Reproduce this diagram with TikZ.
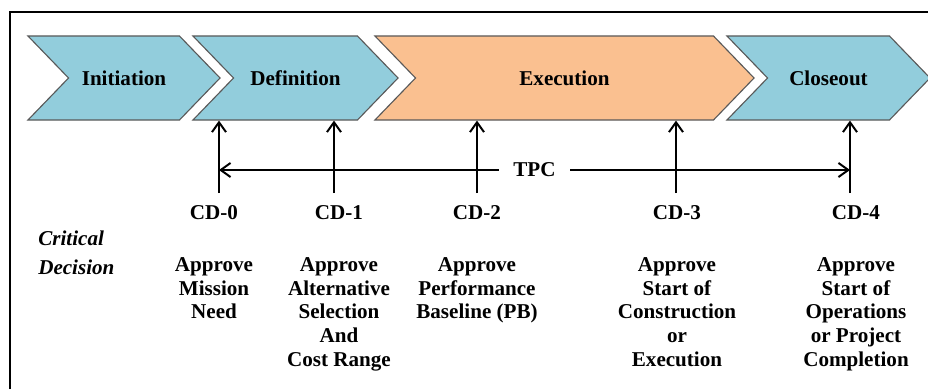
\documentclass[tikz,border=0pt]{standalone}
\usepackage{fontspec}
\setmainfont{Liberation Serif}
\usetikzlibrary{shapes.symbols, arrows.meta, positioning}
\definecolor{phaseblue}{RGB}{146,205,220}
\definecolor{phaseorange}{RGB}{250,192,144}

\begin{document}
\begin{tikzpicture}[x=0.025cm, y=-0.025cm,
    phase/.style={signal, signal from=west, signal to=east, signal pointer angle=92,
      draw=black!65, line width=0.8pt, minimum height=2.1cm, inner sep=0pt,
      font=\fontsize{15}{17}\selectfont\bfseries},
    cdlabel/.style={font=\fontsize{15}{17}\selectfont\bfseries, inner sep=0pt},
    desc/.style={align=center, font=\fontsize{15}{17}\selectfont\bfseries, inner sep=0pt},
    cdarrow/.style={-{Straight Barb[length=7pt,width=10pt]}, line width=1.4pt}]
  \useasboundingbox (0,0) rectangle (928,389);
  \draw [line width=1.4pt] (10,389) -- (10,12) -- (928,12);

  % phases
  \node (init) [phase, fill=phaseblue, minimum width=4.8cm] at (124,78) {Initiation};
  \node (def) [phase, fill=phaseblue, minimum width=5.125cm] at (295.5,78) {Definition};
  \node (exe) [phase, fill=phaseorange, minimum width=9.475cm] at (564.5,78) {Execution};
  \node (close) [phase, fill=phaseblue, minimum width=5.075cm] at (828.5,78) {Closeout};

  % critical decisions
  \node (crit) [cdlabel, font=\fontsize{15}{21}\selectfont\bfseries\itshape, align=left, anchor=west] at (38,253) {Critical\\Decision};

  \node (cd0) [cdlabel] at (214,213) {CD-0};
  \node (cd1) [cdlabel] at (339,213) {CD-1};
  \node (cd2) [cdlabel] at (477,213) {CD-2};
  \node (cd3) [cdlabel] at (677,213) {CD-3};
  \node (cd4) [cdlabel] at (856,213) {CD-4};

  \node (txt0) [desc, below=26pt of cd0] {Approve\\Mission\\Need};
  \node (txt1) [desc, below=26pt of cd1] {Approve\\Alternative\\Selection\\And\\Cost Range};
  \node (txt2) [desc, below=26pt of cd2] {Approve\\Performance\\Baseline (PB)};
  \node (txt3) [desc, below=26pt of cd3] {Approve\\Start of\\Construction\\or\\Execution};
  \node (txt4) [desc, below=26pt of cd4] {Approve\\Start of\\Operations\\or Project\\Completion};

  \coordinate (c0) at (219,193);
  \coordinate (c1) at (334,193);
  \coordinate (c2) at (477,193);
  \coordinate (c3) at (676,193);
  \coordinate (c4) at (850,193);

  \draw [cdarrow] (c0) -- (c0 |- def.south);
  \draw [cdarrow] (c1) -- (c1 |- def.south);
  \draw [cdarrow] (c2) -- (c2 |- exe.south);
  \draw [cdarrow] (c3) -- (c3 |- exe.south);
  \draw [cdarrow] (c4) -- (c4 |- close.south);

  % total project cost
  \coordinate (tpcl) at (219,170);
  \coordinate (tpcr) at (850,170);
  \draw [cdarrow, {Straight Barb[length=7pt,width=10pt]}-{Straight Barb[length=7pt,width=10pt]}]
    (tpcl) -- node [cdlabel, fill=white, inner xsep=10pt, inner ysep=2pt] {TPC} (tpcr);
\end{tikzpicture}
\end{document}
